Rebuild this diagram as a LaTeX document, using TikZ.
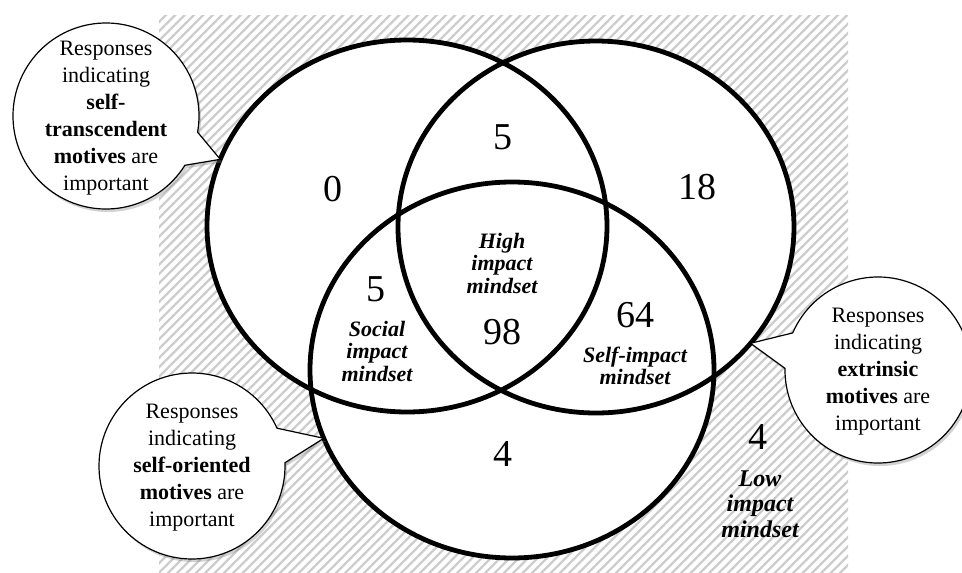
\documentclass[tikz,border=0pt]{standalone}
\usepackage{fontspec}
\setmainfont{Liberation Serif}
\usetikzlibrary{patterns.meta,shadows,calc}
\begin{document}
\begin{tikzpicture}[x=1pt,y=-1pt,
  venn/.style={line width=4.8pt},
  bubble/.style={fill=white,draw=black,line width=1.2pt,line join=miter,
    drop shadow={shadow xshift=2pt,shadow yshift=-3pt,opacity=0.35}},
  num/.style={font=\fontsize{38}{40}\selectfont,inner sep=0pt},
  lab/.style={font=\fontsize{22}{22.5}\selectfont\bfseries\itshape,align=center,inner sep=0pt},
  btext/.style={font=\fontsize{22}{27}\selectfont,align=center,inner sep=0pt}]
\useasboundingbox (0,0) rectangle (962,573);
\begin{scope}
\clip (0,0) rectangle (962,573);
% hatched background
\fill[pattern={Lines[angle=45,distance=6.6pt,line width=2.3pt]},pattern color=black!20]
  (159,15) rectangle (848,573);
% ellipse centres
\coordinate (c1) at (407,226);
\coordinate (c2) at (596,227);
\coordinate (c3) at (512,370);
% white fills
\fill[white] (c1) ellipse [x radius=200, y radius=186];
\fill[white] (c2) ellipse [x radius=198, y radius=186];
\fill[white] (c3) ellipse [x radius=202, y radius=188];
% outlines
\draw[venn] (c1) ellipse [x radius=200, y radius=186];
\draw[venn] (c2) ellipse [x radius=198, y radius=186];
\draw[venn] (c3) ellipse [x radius=202, y radius=188];
% bubble tail tips on the ellipse outlines
\coordinate (tip1) at ($(c1)+(201:200 and 186)$);
\coordinate (tip2) at ($(c3)+(158.7:202 and 188)$);
\coordinate (tip3) at ($(c2)+(38.7:198 and 186)$);
% bubble centres
\coordinate (b1) at (106,116);
\coordinate (b2) at (192,466);
\coordinate (b3) at (878,370);
% bubbles
\draw[bubble] ($(b1)+(32:93)$) arc[start angle=32, end angle=370, radius=93] -- (tip1) -- cycle;
\draw[bubble] ($(b2)+(-2:93)$) arc[start angle=-2, end angle=336, radius=93] -- (tip2) -- cycle;
\draw[bubble] ($(b3)+(203.5:93)$) arc[start angle=203.5, end angle=541, radius=93] -- (tip3) -- cycle;
\end{scope}
% bubble texts
\node[btext] (st) at (106,118) {Responses\\indicating\\\textbf{self-}\\\textbf{transcendent}\\\textbf{motives} are\\important};
\node[btext] (so) at (192,468) {Responses\\indicating\\\textbf{self-oriented}\\\textbf{motives} are\\important};
\node[btext] (ex) at (878,372) {Responses\\indicating\\\textbf{extrinsic}\\\textbf{motives} are\\important};
% counts
\node[num] (n0) at (333,189) {0};
\node[num] (n5a) at (503,137) {5};
\node[num] (n18) at (697,187) {18};
\node[num] (n5b) at (376,289) {5};
\node[num] (n98) at (502,332) {98};
\node[num] (n64) at (635,315) {64};
\node[num] (n4a) at (503,454) {4};
\node[num] (n4b) at (758,437) {4};
% mindset labels
\node[lab] (high) at (502,263) {High\\impact\\mindset};
\node[lab] (social) at (377,351) {Social\\impact\\mindset};
\node[lab] (self) at (635,366) {Self-impact\\mindset};
\node[lab,font=\fontsize{24}{25.5}\selectfont\bfseries\itshape] (low) at (760,504) {Low\\impact\\mindset};
\end{tikzpicture}
\end{document}
